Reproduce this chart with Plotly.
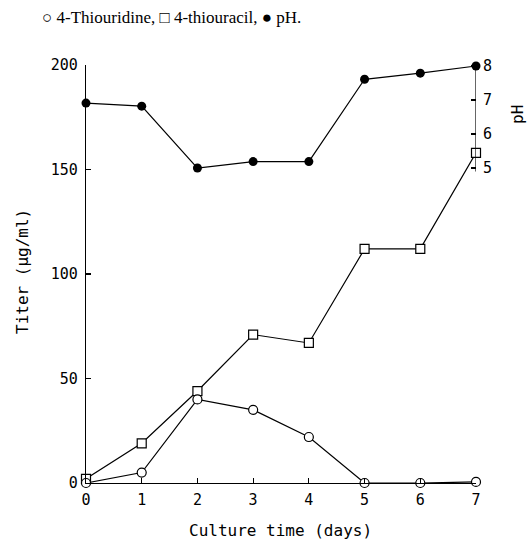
import plotly.graph_objects as go

days = [0, 1, 2, 3, 4, 5, 6, 7]
thiouridine = [0, 5, 40, 35, 22, 0, 0, 0.5]
thiouracil = [2, 19, 44, 71, 67, 112, 112, 158]
ph = [6.91, 6.82, 5.0, 5.19, 5.19, 7.61, 7.79, 8.0]

x_ticks = [0, 1, 2, 3, 4, 5, 6, 7]
y_ticks = [0, 50, 100, 150, 200]
ph_ticks = [5, 6, 7, 8]

tick_font = dict(family="DejaVu Sans Mono", size=15, color="black")
lw = 1.2

fig = go.Figure()
fig.add_trace(go.Scatter(x=days, y=ph, yaxis="y2", mode="lines+markers",
                         line=dict(color="black", width=lw),
                         marker=dict(symbol="circle", size=9, color="black"),
                         cliponaxis=False, showlegend=False))
fig.add_trace(go.Scatter(x=days, y=thiouracil, mode="lines+markers",
                         line=dict(color="black", width=lw),
                         marker=dict(symbol="square", size=9, color="white",
                                     line=dict(color="black", width=lw)),
                         cliponaxis=False, showlegend=False))
fig.add_trace(go.Scatter(x=days, y=thiouridine, mode="lines+markers",
                         line=dict(color="black", width=lw),
                         marker=dict(symbol="circle", size=9, color="white",
                                     line=dict(color="black", width=lw)),
                         cliponaxis=False, showlegend=False))

fig.update_layout(
    width=527, height=539,
    margin=dict(l=86, r=51, t=65, b=56),
    paper_bgcolor="white", plot_bgcolor="white",
    hovermode=False,
    xaxis=dict(range=[0, 7], tickvals=x_ticks, ticks="inside", ticklen=5,
               tickcolor="black", tickwidth=lw, showline=True, linecolor="black",
               linewidth=lw, showgrid=False, zeroline=False, tickfont=tick_font,
               ticklabelstandoff=3),
    yaxis=dict(range=[0, 200], tickvals=y_ticks, ticks="inside", ticklen=5,
               tickcolor="black", tickwidth=lw, showline=True, linecolor="black",
               linewidth=lw, showgrid=False, zeroline=False, tickfont=tick_font,
               ticklabelstandoff=4),
    yaxis2=dict(range=[-4.26, 8.03], overlaying="y", side="right",
                tickvals=ph_ticks, ticks="inside", ticklen=5, tickcolor="black",
                tickwidth=lw, showline=False, showgrid=False, zeroline=False,
                tickfont=tick_font, ticklabelstandoff=6),
    shapes=[dict(type="line", xref="x", yref="y2", x0=7, x1=7, y0=4.9, y1=8.03,
                 line=dict(color="black", width=lw))],
    annotations=[
        dict(text="○ 4-Thiouridine, □ 4-thiouracil, ● pH.", xref="paper", yref="paper",
             x=(40 - 86) / 390, y=1 + (65 - 17) / 418, xanchor="left", yanchor="middle",
             showarrow=False, font=dict(family="Liberation Serif", size=17, color="black")),
        dict(text="Titer (μg/ml)", xref="paper", yref="paper",
             x=(22 - 86) / 390, y=(483 - 272) / 418, xanchor="center", yanchor="middle",
             textangle=-90, showarrow=False,
             font=dict(family="DejaVu Sans Mono", size=16, color="black")),
        dict(text="Culture time (days)", xref="paper", yref="paper",
             x=(280 - 86) / 390, y=(483 - 530) / 418, xanchor="center", yanchor="middle",
             showarrow=False,
             font=dict(family="DejaVu Sans Mono", size=16, color="black")),
        dict(text="pH", xref="paper", yref="paper",
             x=(518 - 86) / 390, y=(483 - 115) / 418, xanchor="center", yanchor="middle",
             textangle=-90, showarrow=False,
             font=dict(family="DejaVu Sans Mono", size=16, color="black")),
    ],
)

fig.write_html(
    "out.html",
    config={"displayModeBar": False, "staticPlot": True},
    post_script="document.body.style.margin='0';"
                "document.documentElement.style.overflow='hidden';"
                "document.body.style.overflow='hidden';",
)
